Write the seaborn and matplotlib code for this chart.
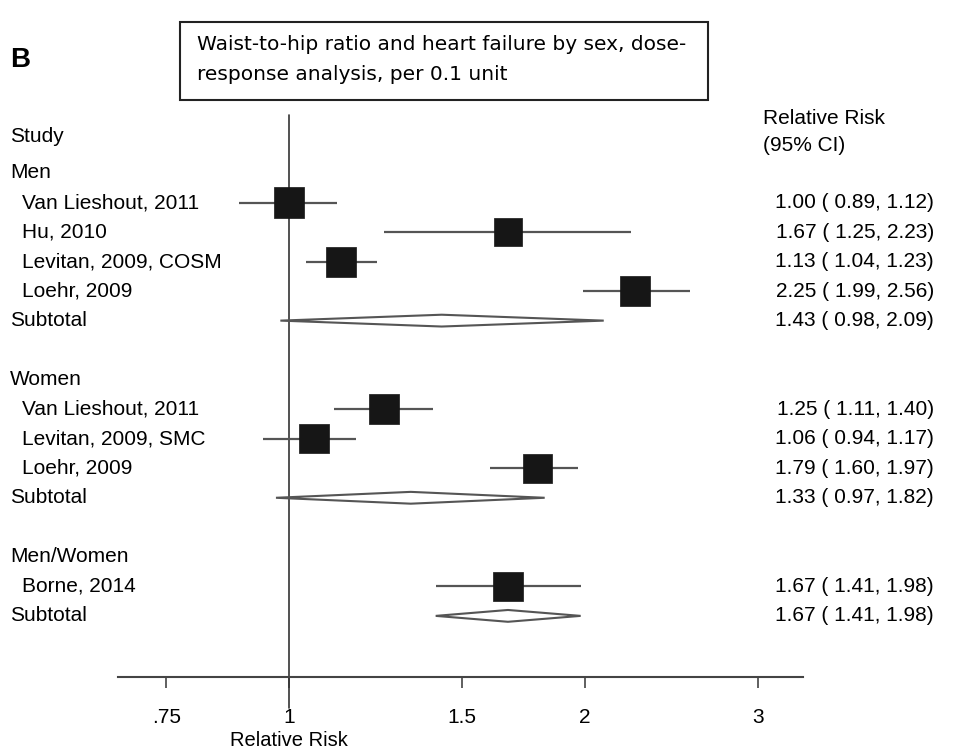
import numpy as np
import pandas as pd
import seaborn as sns
import matplotlib.pyplot as plt
from matplotlib import font_manager
from matplotlib.patches import Rectangle, Polygon
from matplotlib.transforms import blended_transform_factory

# groups, studies and results
groups = ["Men", "Women", "Men/Women"]
study_group = ["Men", "Men", "Men", "Men", "Women", "Women", "Women", "Men/Women"]
study_names = ["Van Lieshout, 2011", "Hu, 2010", "Levitan, 2009, COSM", "Loehr, 2009",
               "Van Lieshout, 2011", "Levitan, 2009, SMC", "Loehr, 2009", "Borne, 2014"]
study_rr = [1.00, 1.67, 1.13, 2.25, 1.25, 1.06, 1.79, 1.67]
study_lo = [0.89, 1.25, 1.04, 1.99, 1.11, 0.94, 1.60, 1.41]
study_hi = [1.12, 2.23, 1.23, 2.56, 1.40, 1.17, 1.97, 1.98]
study_weight = [1.0, 0.85, 1.0, 1.0, 1.0, 0.95, 0.95, 0.95]
sub_rr = [1.43, 1.33, 1.67]
sub_lo = [0.98, 0.97, 1.41]
sub_hi = [2.09, 1.82, 1.98]
xticks = [0.75, 1, 1.5, 2, 3]
xtick_labels = [".75", "1", "1.5", "2", "3"]

sns.set_style("white")
names = [f.name for f in font_manager.fontManager.ttflist]
narrow = "Liberation Sans Narrow" if "Liberation Sans Narrow" in names else "Liberation Sans"
plt.rcParams["font.family"] = ["Liberation Sans", "DejaVu Sans"]
plt.rcParams["text.color"] = "black"

# row layout
rows = []
row = 0
for g in groups:
    rows.append(("group", g, row))
    row += 1
    for i, sg in enumerate(study_group):
        if sg == g:
            rows.append(("study", i, row))
            row += 1
    rows.append(("sub", groups.index(g), row))
    row += 2

study_row = {r[1]: r[2] for r in rows if r[0] == "study"}
sub_row = {r[1]: r[2] for r in rows if r[0] == "sub"}

df = pd.DataFrame({
    "name": study_names, "rr": study_rr, "lo": study_lo, "hi": study_hi,
    "w": study_weight, "row": [study_row[i] for i in range(len(study_names))],
})

fig = plt.figure(figsize=(9.66, 7.5), dpi=100)
ax = fig.add_axes([118 / 966, 1 - 677 / 750, 685 / 966, 562 / 750])
ax.set_xscale("log")
ax.set_xlim(0.67, 3.333)
ax.set_ylim(17.07, -1.964)

# null line
ax.axvline(1, ymin=-0.055, ymax=1, color="#333333", lw=1.2, clip_on=False, zorder=1)

# CI lines and squares
ax.hlines(df["row"], df["lo"], df["hi"], color="#555555", lw=1.6, zorder=2)
sns.scatterplot(data=df, x="rr", y="row", size="w", sizes=(400, 470), marker="s",
                color="#161616", linewidth=0.5, edgecolor="#161616", legend=False,
                ax=ax, zorder=3)
ax.set_xlabel("")
ax.set_ylabel("")

# subtotal diamonds
for k in range(len(groups)):
    r = sub_row[k]
    pts = [(sub_lo[k], r), (sub_rr[k], r - 0.2), (sub_hi[k], r), (sub_rr[k], r + 0.2)]
    ax.add_patch(Polygon(pts, closed=True, facecolor="white", edgecolor="#555555",
                         lw=1.5, zorder=3))

# axis styling
for s in ["top", "left", "right"]:
    ax.spines[s].set_visible(False)
ax.spines["bottom"].set_color("#444444")
ax.spines["bottom"].set_linewidth(1.5)
ax.set_yticks([])
ax.set_xticks(xticks)
ax.set_xticklabels(xtick_labels, fontfamily=narrow, fontsize=15, color="black")
ax.xaxis.set_minor_locator(plt.NullLocator())
ax.tick_params(axis="x", direction="out", length=8, width=1.2, color="#444444",
               pad=14, bottom=True)
ax.text(1, 0.012, "Relative Risk", transform=blended_transform_factory(ax.transData, fig.transFigure),
        ha="center", va="center", fontfamily=narrow, fontsize=14.5)

# row labels and values
tl = blended_transform_factory(fig.transFigure, ax.transData)
fs = 15
ax.text(10 / 966, -1.25, "Study", transform=tl, ha="left", va="center", fontsize=fs)
ax.text(763 / 966, -1.85, "Relative Risk", transform=tl, ha="left", va="center", fontsize=fs)
ax.text(763 / 966, -0.92, "(95% CI)", transform=tl, ha="left", va="center", fontsize=fs)
for kind, ref, r in rows:
    if kind == "group":
        ax.text(10 / 966, r, ref, transform=tl, ha="left", va="center", fontsize=fs)
    elif kind == "study":
        ax.text(22 / 966, r, study_names[ref], transform=tl, ha="left", va="center", fontsize=fs)
        val = f"{study_rr[ref]:.2f} ( {study_lo[ref]:.2f}, {study_hi[ref]:.2f})"
        ax.text(934 / 966, r, val, transform=tl, ha="right", va="center", fontsize=fs)
    else:
        ax.text(10 / 966, r, "Subtotal", transform=tl, ha="left", va="center", fontsize=fs)
        val = f"{sub_rr[ref]:.2f} ( {sub_lo[ref]:.2f}, {sub_hi[ref]:.2f})"
        ax.text(934 / 966, r, val, transform=tl, ha="right", va="center", fontsize=fs)

# panel letter and title box
fig.text(10 / 966, 1 - 60 / 750, "B", ha="left", va="center", fontsize=20, fontweight="bold")
fig.add_artist(Rectangle((180 / 966, 1 - 100 / 750), 528 / 966, 78 / 750,
                         transform=fig.transFigure, fill=False, lw=1.5, edgecolor="#222222"))
fig.text(197 / 966, 1 - 45 / 750, "Waist-to-hip ratio and heart failure by sex, dose-",
         ha="left", va="center", fontsize=14.5, fontfamily="DejaVu Sans")
fig.text(197 / 966, 1 - 75 / 750, "response analysis, per 0.1 unit",
         ha="left", va="center", fontsize=14.5, fontfamily="DejaVu Sans")

fig.savefig("out.png", dpi=100)
